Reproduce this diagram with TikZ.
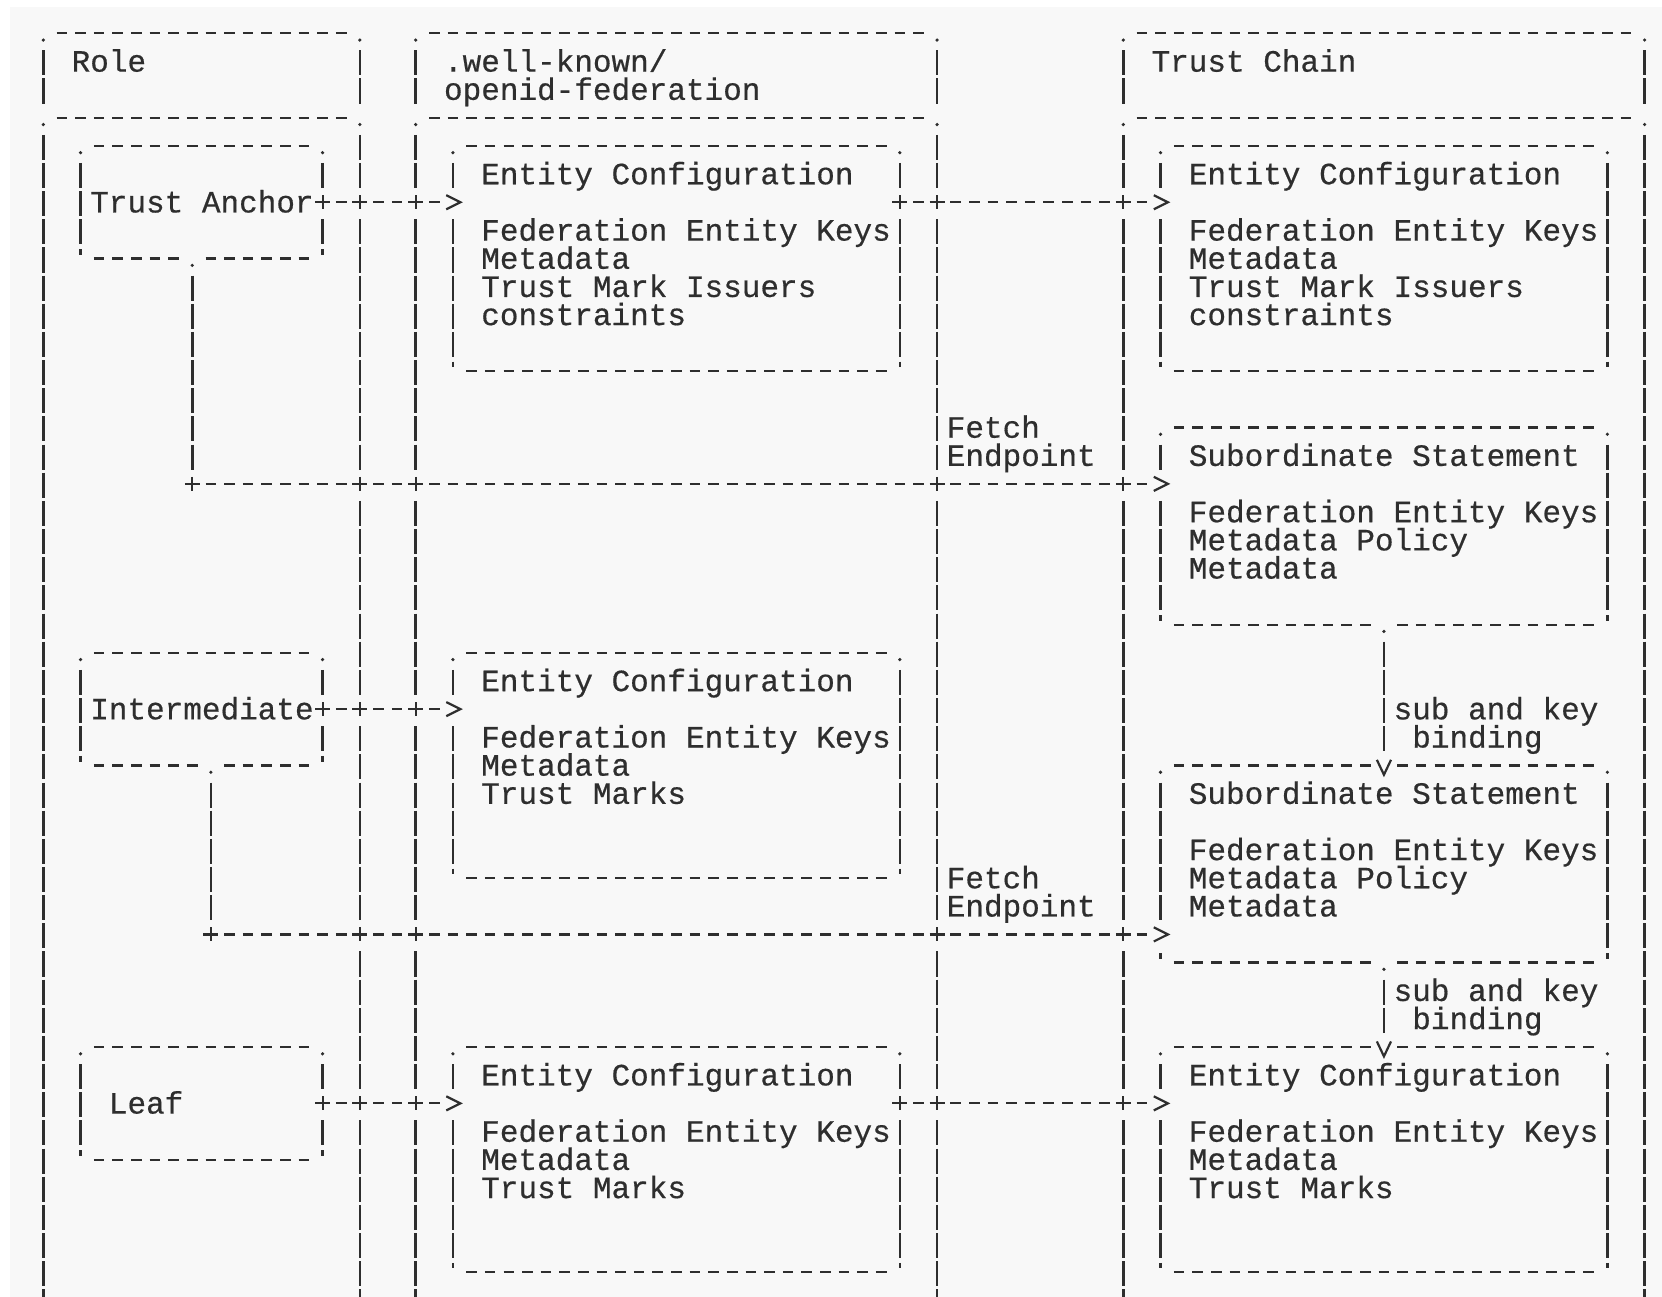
\documentclass[tikz,border=0pt]{standalone}
\usepackage{fontspec}
\usetikzlibrary{fit}
\newfontfamily\asciifont[FakeBold=0.5]{Liberation Mono}
\definecolor{ink}{HTML}{2E2E2E}
\definecolor{paper}{HTML}{F8F8F8}

\tikzset{
  frame/.style={inner sep=0pt, outer sep=0pt},
  hl/.style={ink, line width=1.1pt, dash pattern=on 5.3pt off 4.01pt,
    shorten <=6.66pt, shorten >=6.66pt},
  vl/.style={ink, line width=1.25pt, dash pattern=on 12.53pt off 1.55pt,
    shorten <=8.52pt, shorten >=7.11pt},
  link/.style={ink, line width=1.1pt, dash pattern=on 5.3pt off 4.01pt,
    dash phase=2.65pt, shorten >=5.59pt},
  tick/.style={ink, line width=1.2pt},
  txt/.style={font=\asciifont\fontsize{15.51pt}{14.08pt}\selectfont, text=ink,
    inner sep=0pt, anchor=base west, xshift=-4.655pt, yshift=-5.1pt},
  every pic/.style={solid, ink, line width=1.1pt, shorten <=0pt, shorten >=0pt},
  knot/.pic={\fill[paper] (-0.45,-0.46) rectangle (0.45,0.5);
    \draw (-0.4,0) -- (0.4,0) (0,-0.25) -- (0,0.25);},
  rtip/.pic={\fill[paper] (-0.45,-0.46) rectangle (0.45,0.5);
    \draw (-0.36,-0.25) -- (0.4,0) -- (-0.36,0.25);},
  dtip/.pic={\fill[paper] (-0.45,-0.3) rectangle (0.45,0.3);
    \draw (-0.38,-0.2) -- (0,0.33) -- (0.38,-0.2);},
  bdot/.pic={\fill[paper] (-0.45,-0.3) rectangle (0.45,0.3);
    \fill (0,0.24) circle (0.9pt);}
}

% box in the ascii manner: dashes on top, bars on the sides, dots at the top corners
\newcommand\asciiframe[5]{%
  \node[frame, fit={(#2,#3) (#4,#5)}] (#1) {};
  \draw[hl] (#1.north west) -- (#1.north east);
  \draw[vl] (#1.north west) -- (#1.south west);
  \draw[vl] (#1.north east) -- (#1.south east);
  \fill[ink] (#1.north west) ++(0,0.24) circle (0.9pt)
             (#1.north east) ++(0,0.24) circle (0.9pt);}
% closed box: frame plus the bottom dashes and ticks
\newcommand\asciibox[5]{%
  \asciiframe{#1}{#2}{#3}{#4}{#5}
  \draw[hl] (#1.south west) -- (#1.south east);
  \draw[tick] (#1.south west) ++(0,-0.34) -- ++(0,0.2);
  \draw[tick] (#1.south east) ++(0,-0.34) -- ++(0,0.2);}

\begin{document}
\begin{tikzpicture}[x=9.31pt, y=-14.08pt]
\useasboundingbox (-2.3255,-1.1825) rectangle (86.934,44.876);
\clip (-2.3255,-1.1825) rectangle (86.934,44.876);
\fill[white] (-2.3255,-1.1825) rectangle (86.934,44.876);
\fill[paper] (-1.788,-0.945) rectangle (86.934,44.876);

% the three columns, their bodies run off the page
\asciiframe{rolehead}{0}{0}{17}{3}
\asciiframe{rolebody}{0}{3}{17}{47}
\asciiframe{wkhead}{20}{0}{48}{3}
\asciiframe{wkbody}{20}{3}{48}{47}
\asciiframe{tchead}{58}{0}{86}{3}
\asciiframe{tcbody}{58}{3}{86}{47}
\node[txt] (role) at (2,1) {Role};
\node[txt] (wk1) at (22,1) {.well-known/};
\node[txt] (wk2) at (22,2) {openid-federation};
\node[txt] (tc) at (60,1) {Trust Chain};

% roles
\asciibox{ta}{2}{4}{15}{8}
\asciibox{im}{2}{22}{15}{26}
\asciibox{leaf}{2}{36}{15}{40}
\node[txt] (talbl) at (3,6) {Trust Anchor};
\node[txt] (imlbl) at (3,24) {Intermediate};
\node[txt] (leaflbl) at (4,38) {Leaf};

% statements
\asciibox{m1}{22}{4}{46}{12}
\asciibox{m2}{22}{22}{46}{30}
\asciibox{m3}{22}{36}{46}{44}
\asciibox{r1}{60}{4}{84}{12}
\asciibox{ss1}{60}{14}{84}{21}
\asciibox{ss2}{60}{26}{84}{33}
\asciibox{r4}{60}{36}{84}{44}

\foreach \row/\lbl in {1/Entity Configuration, 3/Federation Entity Keys,
    4/Metadata, 5/Trust Mark Issuers, 6/constraints}{
  \node[txt] (m1-\row) at (24,4+\row) {\lbl};
  \node[txt] (r1-\row) at (62,4+\row) {\lbl};
}
\foreach \row/\lbl in {1/Entity Configuration, 3/Federation Entity Keys,
    4/Metadata, 5/Trust Marks}{
  \node[txt] (m2-\row) at (24,22+\row) {\lbl};
  \node[txt] (m3-\row) at (24,36+\row) {\lbl};
  \node[txt] (r4-\row) at (62,36+\row) {\lbl};
}
\foreach \row/\lbl in {1/Subordinate Statement, 3/Federation Entity Keys,
    4/Metadata Policy, 5/Metadata}{
  \node[txt] (ss1-\row) at (62,14+\row) {\lbl};
  \node[txt] (ss2-\row) at (62,26+\row) {\lbl};
}
\node[txt] (fetch1) at (49,14) {Fetch};
\node[txt] (ep1) at (49,15) {Endpoint};
\node[txt] (fetch2) at (49,30) {Fetch};
\node[txt] (ep2) at (49,31) {Endpoint};

% links
\coordinate (tafork) at (8,16);
\coordinate (imfork) at (9,32);

\draw[link] (ta.east) pic{knot} -- (rolebody.east |- ta.east) pic{knot}
  -- (wkbody.west |- ta.east) pic{knot} -- (m1.west |- ta.east) pic{rtip};
\draw[link] (m1.east |- ta.east) pic{knot} -- (wkbody.east |- ta.east) pic{knot}
  -- (tcbody.west |- ta.east) pic{knot} -- (r1.west |- ta.east) pic{rtip};

\draw[vl] (ta.south -| tafork) pic{bdot} -- (tafork);
\draw[link] (tafork) pic{knot} -- (rolebody.east |- tafork) pic{knot}
  -- (wkbody.west |- tafork) pic{knot} -- (wkbody.east |- tafork) pic{knot}
  -- (tcbody.west |- tafork) pic{knot} -- (ss1.west |- tafork) pic{rtip};

\draw[link] (im.east) pic{knot} -- (rolebody.east |- im.east) pic{knot}
  -- (wkbody.west |- im.east) pic{knot} -- (m2.west |- im.east) pic{rtip};

\draw[vl] (im.south -| imfork) pic{bdot} -- (imfork);
\draw[link] (imfork) pic{knot} -- (rolebody.east |- imfork) pic{knot}
  -- (wkbody.west |- imfork) pic{knot} -- (wkbody.east |- imfork) pic{knot}
  -- (tcbody.west |- imfork) pic{knot} -- (ss2.west |- imfork) pic{rtip};

\draw[link] (leaf.east) pic{knot} -- (rolebody.east |- leaf.east) pic{knot}
  -- (wkbody.west |- leaf.east) pic{knot} -- (m3.west |- leaf.east) pic{rtip};
\draw[link] (m3.east |- leaf.east) pic{knot} -- (wkbody.east |- leaf.east) pic{knot}
  -- (tcbody.west |- leaf.east) pic{knot} -- (r4.west |- leaf.east) pic{rtip};

% sub and key binding down the chain
\draw[vl] (ss1.south) pic{bdot} -- (ss2.north) pic{dtip};
\draw[vl] (ss2.south) pic{bdot} -- (r4.north) pic{dtip};
\node[txt] (bind1) at (73,24) {sub and key};
\node[txt] (bind1b) at (74,25) {binding};
\node[txt] (bind2) at (73,34) {sub and key};
\node[txt] (bind2b) at (74,35) {binding};
\end{tikzpicture}
\end{document}
